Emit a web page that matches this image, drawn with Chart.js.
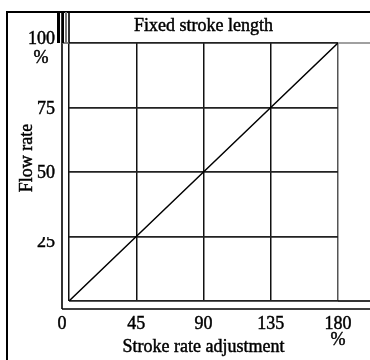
<!DOCTYPE html>
<html>
<head>
<meta charset="utf-8">
<script src="https://cdn.jsdelivr.net/npm/chart.js@4.4.1/dist/chart.umd.min.js"></script>
<style>
  html, body { margin: 0; padding: 0; background: #fff; }
  #wrap { width: 370px; height: 360px; }
</style>
</head>
<body>
<div id="wrap"><canvas id="c" width="370" height="360"></canvas></div>
<script>
// Flow rate versus stroke rate adjustment at a fixed stroke length
const strokeRate = [0, 45, 90, 135, 180];
const flowRate = [0, 25, 50, 75, 100];
const xTickLabels = [0, 45, 90, 135, 180];
const yTickLabels = [25, 50, 75, 100];

const FONT = '18px "Liberation Serif", "Times New Roman", serif';

const frame = {
  id: 'frame',
  beforeDraw(chart) {
    const ctx = chart.ctx;
    ctx.save();
    ctx.fillStyle = '#fff';
    ctx.fillRect(0, 0, chart.width, chart.height);
    ctx.restore();
  },
  afterDraw(chart) {
    const ctx = chart.ctx;
    const ca = chart.chartArea;
    const xs = chart.scales.x, ys = chart.scales.y;
    const W = chart.width, H = chart.height;
    const line = (x1, y1, x2, y2, w, c) => {
      ctx.beginPath();
      ctx.lineWidth = w;
      ctx.strokeStyle = c || '#000';
      ctx.moveTo(x1, y1);
      ctx.lineTo(x2, y2);
      ctx.stroke();
    };
    // slightly heavy serif text
    const text = (s, x, y) => {
      ctx.fillText(s, x, y);
      ctx.lineWidth = 0.45;
      ctx.strokeStyle = '#000';
      ctx.strokeText(s, x, y);
    };
    ctx.save();
    const innerL = ca.left - 7;
    const boxTop = 12;
    // outer frame
    line(6, boxTop, W, boxTop, 2);
    line(7, boxTop, 7, H, 2);
    // double rule round the plot
    line(innerL, boxTop, innerL, ca.bottom + 8, 1.6);
    line(ca.left, boxTop, ca.left, ca.top, 1.6);
    line(innerL, ca.bottom + 8, W, ca.bottom + 8, 1.6);
    line(ca.right, ca.bottom, W, ca.bottom, 1.6);
    line(innerL, ca.top, ca.left, ca.top, 1.6, '#666');
    line(ca.right, ca.top, W, ca.top, 1.6, '#888');
    // heavy marks at the title corner
    ctx.fillStyle = '#000';
    ctx.fillRect(innerL - 5, boxTop, 3, ca.top - boxTop);
    ctx.fillRect(innerL, boxTop, 2, ca.top - boxTop);
    ctx.fillStyle = '#777';
    ctx.fillRect(innerL + 3, boxTop, 2, ca.top - boxTop);

    ctx.fillStyle = '#000';
    ctx.font = FONT;
    // title
    ctx.textAlign = 'center';
    ctx.textBaseline = 'alphabetic';
    text('Fixed stroke length', (ca.left + ca.right) / 2, 31);

    // x tick labels
    xTickLabels.forEach(v => {
      let px = xs.getPixelForValue(v);
      if (v === 0) px = innerL;
      text(String(v), px, ca.bottom + 28);
    });
    text('%', xs.getPixelForValue(180), ca.bottom + 44);
    text('Stroke rate adjustment', (ca.left + ca.right) / 2, ca.bottom + 51);

    // y tick labels
    ctx.textAlign = 'right';
    yTickLabels.forEach(v => {
      const py = ys.getPixelForValue(v);
      let dy = 6;
      if (v === 100) dy = 1;
      if (v === 25) dy = 10;
      ctx.save();
      if (v === 25) {
        ctx.beginPath();
        ctx.rect(0, py + 0.5, ca.left, 40);
        ctx.clip();
      }
      text(String(v), innerL - 7, py + dy);
      ctx.restore();
    });
    ctx.textAlign = 'center';
    text('%', 41, ys.getPixelForValue(100) + 20);

    // y axis title
    ctx.save();
    ctx.translate(32, 158);
    ctx.rotate(-Math.PI / 2);
    ctx.textAlign = 'center';
    ctx.textBaseline = 'alphabetic';
    text('Flow rate', 0, 0);
    ctx.restore();

    ctx.restore();
  }
};

new Chart(document.getElementById('c'), {
  type: 'scatter',
  data: {
    datasets: [{
      data: strokeRate.map((x, i) => ({ x: x, y: flowRate[i] })),
      showLine: true,
      borderColor: '#000',
      borderWidth: 1.5,
      pointRadius: 0,
      fill: false
    }]
  },
  options: {
    responsive: false,
    animation: false,
    events: [],
    layout: { padding: { left: 0, right: 32, top: 43, bottom: 0 } },
    plugins: { legend: { display: false }, tooltip: { enabled: false }, title: { display: false } },
    scales: {
      x: {
        type: 'linear', min: 0, max: 180,
        ticks: { display: false, stepSize: 45 },
        grid: {
          drawTicks: false,
          lineWidth: 1.5,
          color: ctx => (ctx.tick && ctx.tick.value === 180) ? '#555' : '#111'
        },
        border: { display: false },
        afterFit: s => { s.height = 59; }
      },
      y: {
        type: 'linear', min: 0, max: 100,
        ticks: { display: false, stepSize: 25 },
        grid: {
          drawTicks: false,
          lineWidth: 1.8,
          color: '#222'
        },
        border: { display: false },
        afterFit: s => { s.width = 69; }
      }
    }
  },
  plugins: [frame]
});
</script>
</body>
</html>
